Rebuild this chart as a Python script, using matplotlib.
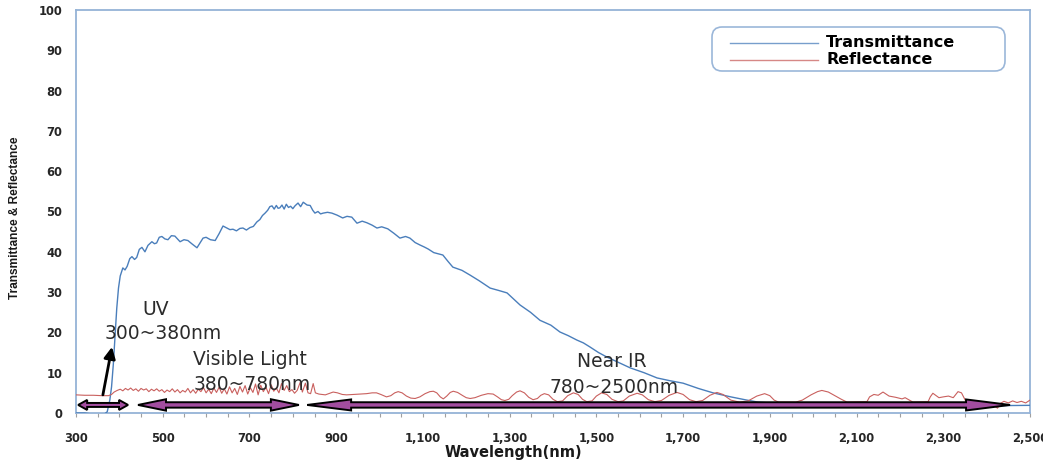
import matplotlib
matplotlib.use("Agg")
import matplotlib.pyplot as plt
from matplotlib.patches import Polygon, FancyBboxPatch
from matplotlib.lines import Line2D
from matplotlib.transforms import IdentityTransform

# ---------------- data ----------------
trans_nm = [300, 320, 340, 355, 365, 372, 378, 382, 386, 390, 394, 398, 402, 408, 413, 418, 424, 429, 435, 440,
            446, 452, 459, 466, 475, 481, 486, 492, 498, 505, 512, 520, 528, 534, 540, 549, 558, 567, 579, 586,
            593, 600, 610, 621, 630, 639, 646, 655, 662, 670, 678, 685, 693, 701, 709, 717, 724, 730, 736, 742,
            747, 752, 757, 762, 766, 770, 775, 780, 785, 790, 795, 800, 805, 812, 818, 824, 833, 840, 846, 851,
            858, 864, 870, 880, 890, 902, 915, 925, 936, 948, 960, 971, 983, 994, 1005, 1019, 1033, 1047, 1060, 1070,
            1082, 1093, 1103, 1112, 1125, 1146, 1158, 1169, 1190, 1209, 1230, 1255, 1275, 1294, 1310, 1324, 1348, 1370, 1395, 1416,
            1435, 1455, 1470, 1485, 1505, 1524, 1550, 1578, 1610, 1640, 1670, 1700, 1735, 1769, 1810, 1847, 1873, 1900, 1950, 2000,
            2100, 2200, 2300, 2400, 2500]
trans_val = [0.0, 0.0, -0.3, -0.5, -0.3, 0.3, 3.2, 6.5, 12, 19, 26, 31, 34, 36, 35.5, 36.4, 38.3, 38.8, 38.1, 38.6,
             40.6, 41.1, 40.0, 41.6, 42.5, 42.0, 42.2, 43.6, 43.8, 43.2, 43.0, 44.0, 43.9, 43.2, 42.5, 43.0, 42.8, 42.0, 41.0, 42.2,
             43.4, 43.6, 43.0, 42.8, 44.5, 46.4, 46.0, 45.5, 45.6, 45.2, 45.8, 45.9, 45.4, 46.0, 46.3, 47.4, 48.0, 49.0, 49.6, 50.3,
             51.2, 51.4, 50.6, 51.5, 50.8, 50.9, 51.6, 50.6, 51.8, 51.0, 51.3, 50.7, 51.4, 52.1, 51.2, 52.3, 51.6, 51.5, 50.3, 49.6,
             50.0, 49.4, 49.6, 49.8, 49.6, 49.1, 48.4, 48.8, 48.6, 47.1, 47.6, 47.2, 46.6, 45.9, 46.2, 45.7, 44.6, 43.4, 43.8, 43.4,
             42.3, 41.7, 41.2, 40.7, 39.8, 39.2, 37.6, 36.2, 35.4, 34.2, 32.8, 31.0, 30.4, 29.8, 28.2, 26.8, 25.0, 23.0, 21.8, 20.1,
             19.2, 18.1, 17.4, 16.4, 15.0, 13.9, 12.6, 11.2, 10.0, 8.7, 8.0, 7.4, 6.1, 5.0, 4.0, 3.2, 2.7, 2.5, 2.3, 2.1,
             2.0, 1.9, 1.9, 1.8, 1.9]

refl_nm = [300, 320, 340, 360, 375, 382, 388, 395, 402, 408, 414, 420, 426, 432, 438, 444, 450, 456, 462, 468,
           474, 480, 486, 492, 498, 504, 510, 516, 522, 528, 534, 540, 546, 552, 558, 564, 570, 576, 582, 588,
           594, 600, 606, 612, 618, 624, 630, 636, 642, 648, 654, 660, 666, 672, 678, 684, 690, 696, 702, 708,
           714, 720, 726, 732, 738, 744, 750, 756, 762, 768, 774, 780, 786, 792, 798, 804, 810, 817, 822, 829,
           835, 841, 847, 852, 860, 875, 885, 893, 903, 914, 924, 938, 955, 970, 983, 993, 1003, 1016, 1026, 1035,
           1043, 1052, 1062, 1072, 1082, 1093, 1105, 1116, 1124, 1132, 1140, 1147, 1155, 1163, 1170, 1180, 1192, 1200, 1209, 1220,
           1235, 1250, 1262, 1272, 1281, 1289, 1298, 1306, 1316, 1324, 1334, 1344, 1354, 1364, 1372, 1380, 1390, 1400, 1410, 1422,
           1434, 1447, 1458, 1468, 1478, 1490, 1500, 1512, 1524, 1536, 1550, 1562, 1576, 1594, 1606, 1620, 1635, 1650, 1668, 1686,
           1700, 1715, 1730, 1745, 1762, 1778, 1792, 1810, 1830, 1850, 1870, 1888, 1900, 1910, 1920, 1960, 1975, 1995, 2010, 2020,
           2035, 2050, 2065, 2078, 2124, 2130, 2140, 2150, 2161, 2175, 2190, 2205, 2212, 2222, 2230, 2265, 2270, 2276, 2290, 2300,
           2312, 2323, 2334, 2342, 2353, 2375, 2400, 2415, 2425, 2432, 2440, 2450, 2460, 2470, 2480, 2490, 2500]
refl_val = [4.5, 4.4, 4.4, 4.3, 4.3, 4.6, 5.2, 5.6, 5.9, 5.5, 6.1, 5.7, 6.2, 5.6, 6.0, 5.4, 6.1, 5.7, 6.0, 5.3,
            5.9, 5.5, 6.0, 5.4, 5.8, 5.1, 5.7, 5.3, 6.0, 5.2, 5.8, 5.0, 5.6, 5.2, 6.1, 5.0, 5.8, 4.9, 5.9, 5.3,
            6.3, 5.0, 5.9, 4.8, 6.2, 5.1, 6.4, 4.9, 6.0, 4.7, 6.5, 5.0, 6.1, 4.6, 6.6, 5.2, 6.8, 4.7, 6.3, 5.1,
            7.2, 4.5, 6.9, 5.3, 6.4, 4.8, 7.0, 5.4, 6.2, 5.0, 7.3, 5.6, 6.8, 5.3, 5.8, 4.9, 5.6, 7.6, 5.2, 7.4,
            5.0, 4.8, 7.3, 5.0, 4.7, 4.5, 4.9, 5.2, 5.0, 4.6, 4.5, 4.6, 4.7, 4.8, 5.0, 5.0, 4.6, 4.0, 4.3, 5.0,
            5.3, 5.0, 4.2, 3.7, 3.6, 4.0, 4.8, 5.3, 5.4, 5.0, 4.0, 3.5, 4.2, 5.1, 5.4, 5.1, 4.3, 3.8, 3.6, 3.8,
            4.4, 4.8, 4.7, 4.0, 3.3, 3.1, 3.4, 4.3, 5.2, 5.5, 5.0, 3.9, 3.3, 3.6, 4.4, 4.8, 4.5, 3.4, 2.8, 3.0,
            4.3, 5.0, 4.6, 3.4, 2.8, 3.0, 4.2, 5.0, 4.6, 3.4, 2.8, 3.0, 4.2, 4.9, 4.5, 3.3, 2.8, 3.1, 4.4, 5.1,
            4.6, 3.3, 2.8, 3.1, 4.4, 5.1, 4.6, 3.2, 2.7, 3.0, 4.2, 4.8, 4.3, 3.2, 2.7, 2.7, 3.2, 4.5, 5.3, 5.6,
            5.2, 4.3, 3.4, 2.7, 2.8, 4.0, 4.6, 4.4, 5.2, 4.2, 3.9, 3.5, 3.8, 3.2, 2.7, 2.8, 4.0, 4.9, 3.8, 4.0,
            4.2, 3.8, 5.3, 5.0, 2.7, 2.6, 2.5, 2.0, 1.2, 2.4, 2.9, 2.5, 3.0, 2.6, 2.9, 2.5, 3.2]

series_labels = ["Transmittance", "Reflectance"]
x_ticks = [300, 500, 700, 900, 1100, 1300, 1500, 1700, 1900, 2100, 2300, 2500]
x_tick_labels = ["300", "500", "700", "900", "1,100", "1,300", "1,500", "1,700", "1,900", "2,100", "2,300", "2,500"]
y_ticks = [0, 10, 20, 30, 40, 50, 60, 70, 80, 90, 100]

band_spans = [(305, 420), (443, 814), (833, 2454)]   # nm extents of the double arrows
band_level = 2.0
band_texts = [("UV", 454, 24.3), ("300~380nm", 365, 18.3),
              ("Visible Light", 570, 11.9), ("380~780nm", 570, 5.8),
              ("Near IR", 1455, 11.5), ("780~2500nm", 1393, 4.9)]
uv_arrow_tail = (362, 4.5)
uv_arrow_head = (383, 16.4)

# ---------------- figure ----------------
W, H = 1043, 462
fig = plt.figure(figsize=(W / 100, H / 100), dpi=100)
ax = fig.add_axes([76 / W, 1 - 413 / H, 954 / W, 403 / H])

l_t, = ax.plot(trans_nm, trans_val, color="#4a7ebb", lw=1.0, label=series_labels[0], zorder=3)
l_r, = ax.plot(refl_nm, refl_val, color="#c9605e", lw=0.8, label=series_labels[1], zorder=3)

ax.set_xlim(300, 2500)
ax.set_ylim(0, 100)

spine_col = "#95b3d7"
for s in ax.spines.values():
    s.set_color(spine_col)
    s.set_linewidth(1.3)

ax.set_xticks(x_ticks)
ax.set_xticklabels(x_tick_labels)
ax.xaxis.set_minor_locator(matplotlib.ticker.MultipleLocator(50))
ax.tick_params(axis="x", which="both", length=3, color="#a0a0a0", width=0.8)
ax.tick_params(axis="x", which="major", pad=11, labelsize=8.3, labelcolor="#262626")
ax.set_yticks(y_ticks)
ax.tick_params(axis="y", length=0, pad=10, labelsize=8.3, labelcolor="#262626")
for lab in ax.get_xticklabels() + ax.get_yticklabels():
    lab.set_fontweight("bold")

ax.set_xlabel("Wavelength(nm)", fontsize=10.5, fontweight="bold", color="#1a1a1a", va="center")
ax.xaxis.set_label_coords((513 - 76) / 954, (413 - 452) / 403)
ax.set_ylabel("Transmittance & Reflectance", fontsize=8.6, fontweight="bold", color="#1a1a1a",
              family=["Liberation Sans", "DejaVu Sans"], va="center")
ax.yaxis.set_label_coords((15 - 76) / 954, (413 - 218) / 403)

# legend (drawn in pixel coordinates to match the boxed Excel-style legend)
ident = IdentityTransform()
fig.add_artist(FancyBboxPatch((712, H - 71), 293, 44, boxstyle="round,pad=0,rounding_size=10",
                              transform=ident, facecolor="white", edgecolor="#9bb7d9", lw=1.2, zorder=7))
for i, (ln, lab) in enumerate(zip([l_t, l_r], series_labels)):
    yline = H - 43 - 17 * i
    fig.add_artist(Line2D([730, 818], [yline, yline], transform=ident, color=ln.get_color(),
                          lw=1.0, alpha=0.75, zorder=8))
    fig.text(826, H - 47 - 17 * i, lab, transform=ident, fontsize=11.5, fontweight="bold",
             color="black", ha="left", va="baseline", zorder=8)

# double arrows
nm_per_px = (2500 - 300) / ax.bbox.width
val_per_px = (100 - 0) / ax.bbox.height
head_len_px = [9, 28, 44]
head_half_px = [5, 5.7, 5.5]
shaft_half_px = [2.0, 2.7, 2.7]
for (x0, x1), hl, hw, sh in zip(band_spans, head_len_px, head_half_px, shaft_half_px):
    hl_d = hl * nm_per_px
    hw_d = hw * val_per_px
    sh_d = sh * val_per_px
    y = band_level
    verts = [(x0, y), (x0 + hl_d, y + hw_d), (x0 + hl_d, y + sh_d), (x1 - hl_d, y + sh_d),
             (x1 - hl_d, y + hw_d), (x1, y), (x1 - hl_d, y - hw_d), (x1 - hl_d, y - sh_d),
             (x0 + hl_d, y - sh_d), (x0 + hl_d, y - hw_d)]
    ax.add_patch(Polygon(verts, closed=True, facecolor="#a24d9f", edgecolor="black",
                         lw=1.4, joinstyle="miter", zorder=5, clip_on=False))

ax.annotate("", xy=uv_arrow_head, xytext=uv_arrow_tail,
            arrowprops=dict(arrowstyle="-|>", mutation_scale=17, lw=2.0, color="black",
                            shrinkA=0, shrinkB=0), zorder=6)

for txt, xv, yv in band_texts:
    ax.text(xv, yv, txt, fontsize=13.5, color="#2b2b2b", ha="left", va="baseline", zorder=6)

fig.savefig("out.png", dpi=100)
